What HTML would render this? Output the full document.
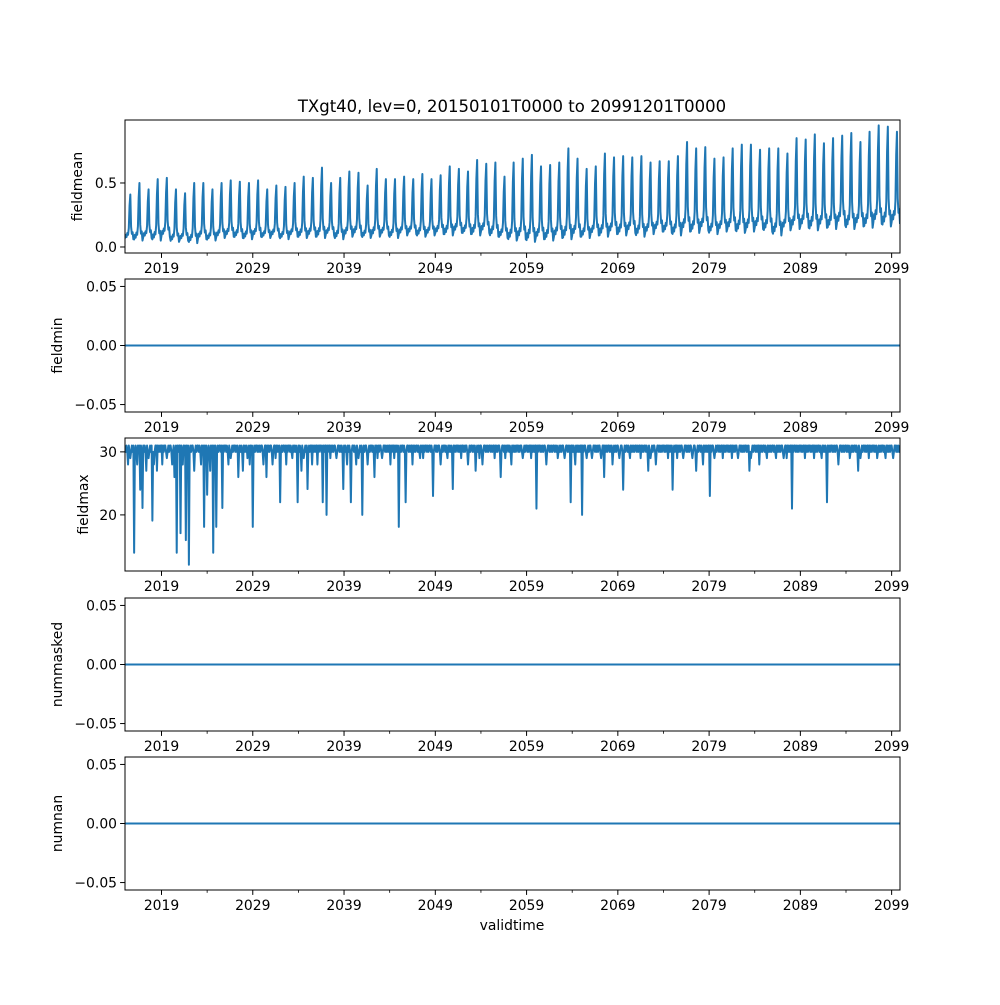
<!DOCTYPE html>
<html><head><meta charset="utf-8"><style>
html,body{margin:0;padding:0;background:#fff;}
svg text{font-family:"DejaVu Sans","Liberation Sans",sans-serif;fill:#000;}
</style></head><body>
<svg id="fig" width="1000" height="1000" viewBox="0 0 1000 1000" xmlns="http://www.w3.org/2000/svg">
<rect width="1000" height="1000" fill="#fff"/>
<text x="512" y="112" text-anchor="middle" font-size="16.5">TXgt40, lev=0, 20150101T0000 to 20991201T0000</text>
<text x="512" y="930" text-anchor="middle" font-size="13.9">validtime</text>
</svg>
<script>
// ---- data ----
const startYear = 2015;
const nYears = 85;
const xTickLabels = ["2019","2029","2039","2049","2059","2069","2079","2089","2099"];
const xTickYears = [2019,2029,2039,2049,2059,2069,2079,2089,2099];
const meanPeaks = [0.41,0.50,0.45,0.53,0.54,0.45,0.42,0.50,0.50,0.45,0.50,0.52,0.51,0.50,0.52,0.45,0.48,0.47,0.50,0.55,
0.54,0.62,0.50,0.54,0.59,0.58,0.48,0.61,0.53,0.53,0.55,0.53,0.57,0.53,0.56,0.63,0.61,0.59,0.68,0.65,
0.66,0.55,0.66,0.69,0.72,0.63,0.64,0.66,0.77,0.69,0.61,0.63,0.73,0.70,0.71,0.70,0.71,0.66,0.67,0.67,
0.71,0.82,0.77,0.78,0.69,0.70,0.77,0.80,0.80,0.76,0.77,0.77,0.73,0.85,0.84,0.88,0.81,0.85,0.87,0.89,
0.82,0.90,0.95,0.94,0.90];
const meanTroughs = [0.06,0.05,0.07,0.05,0.08,0.04,0.05,0.03,0.06,0.05,0.07,0.08,0.07,0.06,0.08,0.07,0.08,0.06,0.08,0.07,
0.08,0.07,0.09,0.06,0.08,0.09,0.07,0.08,0.09,0.07,0.09,0.10,0.08,0.09,0.10,0.09,0.11,0.10,0.09,0.11,
0.08,0.07,0.05,0.06,0.04,0.06,0.05,0.07,0.06,0.08,0.07,0.09,0.08,0.10,0.09,0.11,0.08,0.10,0.12,0.11,
0.09,0.12,0.11,0.13,0.10,0.12,0.13,0.11,0.12,0.14,0.12,0.09,0.13,0.14,0.15,0.13,0.15,0.14,0.17,0.14,
0.16,0.15,0.18,0.16,0.18];
const meanSeason = [0.02,0.10,0.05,0.14,0.10,0.25,0.75,1.00,0.28,0.12,0.16,0.00];
const maxSeason = [31,30,31,30,31,31,30,31,30,31,30,31];
const maxDipTimes = [2015.96,2016.67,2016.95,2017.98,2018.5,2020.68,2021.05,2021.63,2022.0,2023.64,2023.97,2024.7,2025.0,2025.66,2027.4,2029.01,
2030.5,2032.02,2033.95,2035.04,2036.69,2037.06,2038.88,2039.72,2041.0,2042.3,2045.02,2045.76,2048.75,2050.94,2053.4,2056.2,
2060.12,2063.85,2065.05,2067.47,2069.55,2072.3,2075.03,2077.6,2079.09,2083.4,2088.08,2091.92,2095.3];
const maxDipValues = [14,24,21.1,19.1,27,14,17.1,16,12.1,18.1,23.2,14,18.1,21.1,26,18.1,
26,22,22,24.1,22,20,24.1,22,20,26,18.1,22,23,24.1,27,26,
21,22,20,26,24,27,24,27,23,27,21,22,27];
const minorDipTimes = [2015.3,2015.6,2016.3,2017.3,2017.6,2018.2,2019.1,2019.6,2020.2,2020.4,2021.3,2022.6,2023.3,2024.3,2026.3,2026.6,2027.9,2028.4,2028.7,2030.2,
2031.2,2031.5,2032.7,2033.3,2034.3,2034.6,2035.5,2036.1,2037.5,2038.2,2039.3,2040.3,2040.6,2041.6,2042.7,2043.2,2044.1,2044.5,2046.5,2047.3,
2047.7,2049.6,2050.3,2051.8,2052.6,2053.8,2054.2,2055.5,2056.7,2057.3,2058.6,2059.5,2061.2,2062.4,2063.2,2064.3,2065.6,2066.2,2067.2,2068.4,
2069.2,2070.3,2071.5,2072.6,2073.2,2074.5,2075.5,2076.2,2077.2,2078.3,2079.6,2080.5,2081.5,2082.2,2083.6,2084.5,2085.3,2086.3,2087.5,2089.5,
2090.5,2091.3,2093.2,2094.4,2095.6,2096.5,2097.4,2098.3,2099.2,2087.2];
const minorDipValues = [28,29,28,27,29,28,28,29,28,26,28,27,28,27,28,29,27,29,28,28,
28,29,28,29,27,29,28,28,29,29,28,28,29,28,29,29,28,29,28,29,
29,28,29,29,28,29,28,29,29,28,29,29,28,29,29,28,29,29,29,28,
29,29,29,29,28,29,29,29,29,28,29,29,29,29,29,28,29,29,29,29,
29,29,28,29,29,29,29,29,29,29];

// ---- layout ----
const NS = "http://www.w3.org/2000/svg";
const svg = document.getElementById('fig');
const X0 = 125, X1 = 900;
const tEnd = startYear + (nYears*12 - 1)/12;
function xs(t){ return X0 + (t - startYear)/(tEnd - startYear)*(X1 - X0); }
function el(tag, attrs, parent){ const e = document.createElementNS(NS, tag); for (const k in attrs) e.setAttribute(k, attrs[k]); (parent||svg).appendChild(e); return e; }

const panels = [
 {name:'fieldmean', top:120, bot:253, ymin:-0.047, ymax:0.992, ticks:[0,0.5], labels:["0.0","0.5"], labelX:82},
 {name:'fieldmin', top:279, bot:412, ymin:-0.0563, ymax:0.0563, ticks:[-0.05,0,0.05], labels:["\u22120.05","0.00","0.05"], labelX:62},
 {name:'fieldmax', top:438, bot:571, ymin:11.1, ymax:32.2, ticks:[20,30], labels:["20","30"], labelX:88},
 {name:'nummasked', top:598, bot:731, ymin:-0.0563, ymax:0.0563, ticks:[-0.05,0,0.05], labels:["\u22120.05","0.00","0.05"], labelX:62},
 {name:'numnan', top:757, bot:890, ymin:-0.0563, ymax:0.0563, ticks:[-0.05,0,0.05], labels:["\u22120.05","0.00","0.05"], labelX:62}
];

const N = nYears*12;
function seriesFor(name){
  const v = [];
  for (let i=0;i<N;i++){
    const y = Math.floor(i/12), m = i%12;
    if (name==='fieldmean'){
      v.push(meanTroughs[y] + (meanPeaks[y]-meanTroughs[y])*meanSeason[m]);
    } else if (name==='fieldmax'){
      v.push(maxSeason[m]);
    } else v.push(0);
  }
  if (name==='fieldmax'){
    const apply=(ts,vs)=>{ for(let k=0;k<ts.length;k++){ const i=Math.round((ts[k]-startYear)*12); if(i>=0&&i<N) v[i]=Math.min(v[i],vs[k]); } };
    apply(minorDipTimes, minorDipValues);
    apply(maxDipTimes, maxDipValues);
  }
  return v;
}

panels.forEach(p=>{
  const g = el('g',{});
  
  
  const ys = val => p.bot - (val - p.ymin)/(p.ymax - p.ymin)*(p.bot - p.top);
  const clipId = 'clip-'+p.name;
  const cp = el('clipPath',{id:clipId},g);
  el('rect',{x:X0,y:p.top,width:X1-X0,height:p.bot-p.top},cp);
  const vals = seriesFor(p.name);
  let d = '';
  vals.forEach((val,i)=>{ d += (i?'L':'M') + xs(startYear+i/12).toFixed(2)+','+ys(val).toFixed(2); });
  const line = el('path',{d:d,fill:'none',stroke:'#1f77b4','stroke-width':2,'stroke-linejoin':'round','clip-path':'url(#'+clipId+')'},g);
  
  
  const frame = el('rect',{x:X0,y:p.top,width:X1-X0,height:p.bot-p.top,fill:'none',stroke:'#000','stroke-width':1},g);
  
  
  p.ticks.forEach((t,k)=>{
    const y = ys(t);
    el('line',{x1:X0-4.9,x2:X0,y1:y,y2:y,stroke:'#000','stroke-width':1},g);
    const tx = el('text',{x:X0-8,y:y+5,'text-anchor':'end','font-size':13.9},g);
    tx.textContent = p.labels[k];
    
    
  });
  xTickYears.forEach((yr,k)=>{
    const x = xs(yr);
    el('line',{x1:x,x2:x,y1:p.bot,y2:p.bot+4.9,stroke:'#000','stroke-width':1},g);
    const tx = el('text',{x:x,y:p.bot+20,'text-anchor':'middle','font-size':13.9},g);
    tx.textContent = xTickLabels[k];
    
    
  });
  for (let yr=2024; yr<2100; yr+=10){
    const x = xs(yr);
    el('line',{x1:x,x2:x,y1:p.bot,y2:p.bot+2.8,stroke:'#000','stroke-width':0.8},g);
  }
  const cy = (p.top+p.bot)/2;
  const lab = el('text',{x:p.labelX,y:cy,'text-anchor':'middle','font-size':13.9,transform:'rotate(-90 '+p.labelX+' '+cy+')'},g);
  lab.textContent = p.name;
  
  
});
</script>
</body></html>
